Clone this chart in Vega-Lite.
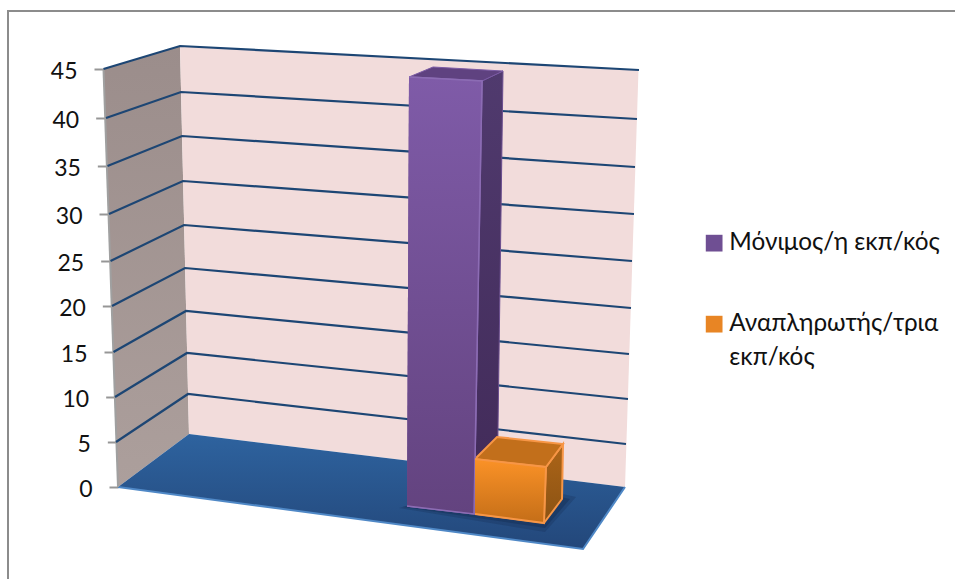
{
 "$schema":"https://vega.github.io/schema/vega-lite/v6.json",
 "width":955,"height":579,"padding":0,"autosize":"none","background":"white",
 "config":{"view":{"stroke":null}},
 "datasets":{
  "ticks":[{"value":0},{"value":5},{"value":10},{"value":15},{"value":20},{"value":25},{"value":30},{"value":35},{"value":40},{"value":45}],
  "faces":[
   {"face":"frame","k":0,"sx":8,"sy":579},{"face":"frame","k":1,"sx":8,"sy":11},{"face":"frame","k":2,"sx":955,"sy":11},
   {"face":"side","k":0,"sx":103.5,"sy":69},{"face":"side","k":1,"sx":180,"sy":46},{"face":"side","k":2,"sx":189,"sy":434},{"face":"side","k":3,"sx":118,"sy":487},
   {"face":"back","k":0,"sx":180,"sy":46},{"face":"back","k":1,"sx":638.5,"sy":70},{"face":"back","k":2,"sx":625,"sy":487},{"face":"back","k":3,"sx":189,"sy":434},
   {"face":"floor","k":0,"sx":118,"sy":487},{"face":"floor","k":1,"sx":189,"sy":434},{"face":"floor","k":2,"sx":625,"sy":487},{"face":"floor","k":3,"sx":583,"sy":549},
   {"face":"edge","k":0,"sx":103.5,"sy":69},{"face":"edge","k":1,"sx":118,"sy":487},
   {"face":"rim","k":0,"sx":118,"sy":487},{"face":"rim","k":1,"sx":583,"sy":549},{"face":"rim","k":2,"sx":625,"sy":487},
   {"face":"glow","k":0,"sx":399,"sy":508},{"face":"glow","k":1,"sx":545,"sy":532},{"face":"glow","k":2,"sx":576,"sy":497},{"face":"glow","k":3,"sx":500,"sy":480},
   {"face":"shade","k":0,"sx":403,"sy":507},{"face":"shade","k":1,"sx":545,"sy":528},{"face":"shade","k":2,"sx":570,"sy":499},{"face":"shade","k":3,"sx":500,"sy":484},
   {"face":"purple side","k":0,"sx":482,"sy":81},{"face":"purple side","k":1,"sx":503,"sy":71},{"face":"purple side","k":2,"sx":497,"sy":500},{"face":"purple side","k":3,"sx":474,"sy":514},
   {"face":"purple top","k":0,"sx":409,"sy":77},{"face":"purple top","k":1,"sx":433,"sy":67},{"face":"purple top","k":2,"sx":503,"sy":71},{"face":"purple top","k":3,"sx":482,"sy":81},
   {"face":"orange side","k":0,"sx":546,"sy":467},{"face":"orange side","k":1,"sx":563,"sy":444},{"face":"orange side","k":2,"sx":562,"sy":499},{"face":"orange side","k":3,"sx":544,"sy":523},
   {"face":"orange top","k":0,"sx":475,"sy":459},{"face":"orange top","k":1,"sx":497,"sy":437},{"face":"orange top","k":2,"sx":563,"sy":444},{"face":"orange top","k":3,"sx":546,"sy":467}
  ],
  "fronts":[
   {"series":"Μόνιμος/η εκπ/κός","k":0,"sx":409,"sy":77},{"series":"Μόνιμος/η εκπ/κός","k":1,"sx":482,"sy":81},{"series":"Μόνιμος/η εκπ/κός","k":2,"sx":474,"sy":514},{"series":"Μόνιμος/η εκπ/κός","k":3,"sx":407,"sy":506},
   {"series":"Αναπληρωτής/τρια εκπ/κός","k":0,"sx":475,"sy":459},{"series":"Αναπληρωτής/τρια εκπ/κός","k":1,"sx":546,"sy":467},{"series":"Αναπληρωτής/τρια εκπ/κός","k":2,"sx":544,"sy":523},{"series":"Αναπληρωτής/τρια εκπ/κός","k":3,"sx":475,"sy":514}
  ],
  "gridlines":[
   {"value":45,"k":0,"sx":103.5,"sy":69},{"value":45,"k":1,"sx":180,"sy":46},{"value":45,"k":2,"sx":639,"sy":70},
   {"value":40,"k":0,"sx":106,"sy":118},{"value":40,"k":1,"sx":181,"sy":92},{"value":40,"k":2,"sx":637,"sy":119},
   {"value":35,"k":0,"sx":107.5,"sy":166},{"value":35,"k":1,"sx":182,"sy":136},{"value":35,"k":2,"sx":635,"sy":167},
   {"value":30,"k":0,"sx":109,"sy":214},{"value":30,"k":1,"sx":183,"sy":181},{"value":30,"k":2,"sx":634,"sy":214},
   {"value":25,"k":0,"sx":110.5,"sy":261},{"value":25,"k":1,"sx":184,"sy":225},{"value":25,"k":2,"sx":632,"sy":261},
   {"value":20,"k":0,"sx":112,"sy":306},{"value":20,"k":1,"sx":185,"sy":268},{"value":20,"k":2,"sx":631,"sy":308},
   {"value":15,"k":0,"sx":113.5,"sy":352},{"value":15,"k":1,"sx":186,"sy":311},{"value":15,"k":2,"sx":629,"sy":354},
   {"value":10,"k":0,"sx":115,"sy":397},{"value":10,"k":1,"sx":187,"sy":353},{"value":10,"k":2,"sx":628,"sy":399},
   {"value":5,"k":0,"sx":116,"sy":442},{"value":5,"k":1,"sx":188,"sy":394},{"value":5,"k":2,"sx":626,"sy":444}
  ]
 },
 "resolve":{"scale":{"y":"independent"}},
 "layer":[
  {
   "data":{"name":"ticks"},
   "mark":{"type":"point","opacity":0},
   "encoding":{
    "y":{"field":"value","type":"quantitative",
     "scale":{"domain":[0,5,10,15,20,25,30,35,40,45],"range":[487,442,397,352,306,261,214,166,118,69]},
     "axis":{"title":null,"values":[0,5,10,15,20,25,30,35,40,45],"offset":-118,"domain":false,"grid":false,
      "tickColor":"#969696","tickWidth":2,"tickSize":{"expr":"9+datum.value/3"},
      "labelPadding":17,"labelOffset":2,"labelFont":"Lato","labelFontSize":23,"labelColor":"#111111"}}
   }
  },
  {
   "encoding":{
    "x":{"field":"sx","type":"quantitative","axis":null,"scale":{"domain":[0,955],"nice":false,"zero":false}},
    "y":{"field":"sy","type":"quantitative","axis":null,"scale":{"domain":[579,0],"nice":false,"zero":false}},
    "order":{"field":"k","type":"quantitative"}
   },
   "layer":[
    {"data":{"name":"faces"},"transform":[{"filter":"datum.face=='frame'"}],"mark":{"type":"line","stroke":"#8c8c8c","strokeWidth":2}},
    {"data":{"name":"faces"},"transform":[{"filter":"datum.face=='side'"}],"mark":{"type":"line","strokeWidth":0,"fill":{"x1":0,"y1":0,"x2":0,"y2":1,"gradient":"linear","stops":[{"offset":0,"color":"#9b8d8b"},{"offset":1,"color":"#ac9f9c"}]}}},
    {"data":{"name":"faces"},"transform":[{"filter":"datum.face=='back'"}],"mark":{"type":"line","strokeWidth":0,"fill":"#f2dcdb"}},
    {"data":{"name":"faces"},"transform":[{"filter":"datum.face=='floor'"}],"mark":{"type":"line","strokeWidth":0,"fill":{"x1":0,"y1":0,"x2":0,"y2":1,"gradient":"linear","stops":[{"offset":0,"color":"#2e639f"},{"offset":1,"color":"#23477a"}]}}},
    {"data":{"name":"faces"},"transform":[{"filter":"datum.face=='rim'"}],"mark":{"type":"line","stroke":"#4f88c6","strokeWidth":2}},
    {"data":{"name":"faces"},"transform":[{"filter":"datum.face=='edge'"}],"mark":{"type":"line","stroke":"#a0a0a0","strokeWidth":2}},
    {"data":{"name":"gridlines"},"mark":{"type":"line","stroke":"#1d4674","strokeWidth":2.2},"encoding":{"detail":{"field":"value"}}},
    {"data":{"name":"faces"},"transform":[{"filter":"datum.face=='glow'"}],"mark":{"type":"line","strokeWidth":0,"fill":"#12294a","fillOpacity":0.25}},
    {"data":{"name":"faces"},"transform":[{"filter":"datum.face=='shade'"}],"mark":{"type":"line","strokeWidth":0,"fill":"#12294a","fillOpacity":0.35}},
    {"data":{"name":"faces"},"transform":[{"filter":"datum.face=='purple side'"}],"mark":{"type":"line","stroke":"#6b4e8f","strokeWidth":1,"fill":{"x1":0,"y1":0,"x2":0,"y2":1,"gradient":"linear","stops":[{"offset":0,"color":"#503a6e"},{"offset":1,"color":"#412a58"}]}}},
    {"data":{"name":"faces"},"transform":[{"filter":"datum.face=='purple top'"}],"mark":{"type":"line","stroke":"#7b5ba5","strokeWidth":1,"fill":"#5f4280"}},
    {"data":{"name":"faces"},"transform":[{"filter":"datum.face=='orange side'"}],"mark":{"type":"line","stroke":"#f79646","strokeWidth":2,"fill":{"x1":0,"y1":0,"x2":0,"y2":1,"gradient":"linear","stops":[{"offset":0,"color":"#ad6518"},{"offset":1,"color":"#8a5213"}]}}},
    {"data":{"name":"faces"},"transform":[{"filter":"datum.face=='orange top'"}],"mark":{"type":"line","stroke":"#f79646","strokeWidth":2,"fill":"#c26f1b"}},
    {"data":{"name":"fronts"},
     "mark":{"type":"line","strokeWidth":1.5},
     "encoding":{
      "fill":{"field":"series","type":"nominal","sort":null,
       "scale":{"domain":["Μόνιμος/η εκπ/κός","Αναπληρωτής/τρια εκπ/κός"],"range":["#6f4f93","#e88524"]},
       "legend":{"title":null,"orient":"none","legendX":702,"legendY":231,"symbolType":"square","symbolSize":280,"symbolStrokeWidth":0,
        "labelFont":"Lato","labelFontSize":24.3,"labelColor":"#111111","labelLimit":400,"rowPadding":56,"labelOffset":3,
        "encoding":{"labels":{"lineHeight":{"value":34}}},
        "labelExpr":"datum.label=='Αναπληρωτής/τρια εκπ/κός'?['Αναπληρωτής/τρια','εκπ/κός']:datum.label"}},
      "stroke":{"field":"series","type":"nominal","legend":null,
       "scale":{"domain":["Μόνιμος/η εκπ/κός","Αναπληρωτής/τρια εκπ/κός"],"range":["#8c6cb4","#f79646"]}}
     }},
    {"data":{"name":"fronts"},"transform":[{"filter":"datum.series=='Μόνιμος/η εκπ/κός'"}],"mark":{"type":"line","stroke":"#8c6cb4","strokeWidth":1.5,"fill":{"x1":0,"y1":0,"x2":0,"y2":1,"gradient":"linear","stops":[{"offset":0,"color":"#7f5ba8"},{"offset":1,"color":"#63437f"}]}}},
    {"data":{"name":"fronts"},"transform":[{"filter":"datum.series!='Μόνιμος/η εκπ/κός'"}],"mark":{"type":"line","stroke":"#f79646","strokeWidth":2,"fill":{"x1":0,"y1":0,"x2":0,"y2":1,"gradient":"linear","stops":[{"offset":0,"color":"#fb9227"},{"offset":1,"color":"#c46e18"}]}}}
   ]
  }
 ]
}
